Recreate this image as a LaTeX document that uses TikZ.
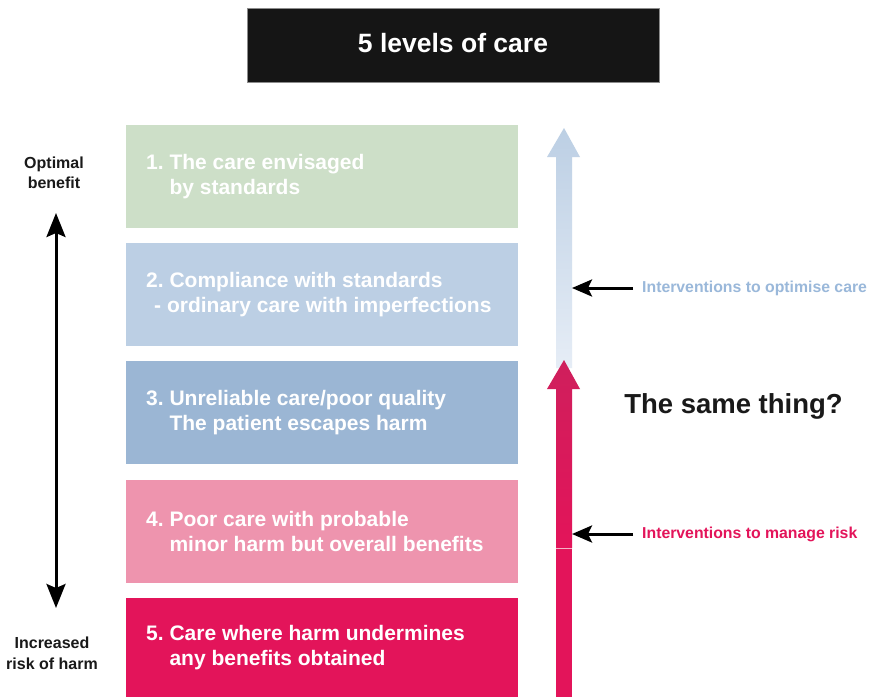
\documentclass[tikz,border=0pt]{standalone}
\usepackage{fontspec}
\setmainfont{Liberation Sans}
\usetikzlibrary{arrows.meta}
\definecolor{cgreen}{HTML}{CDDFC8}
\definecolor{cblue1}{HTML}{BCCFE4}
\definecolor{cblue2}{HTML}{9BB6D4}
\definecolor{cpink}{HTML}{EE94AE}
\definecolor{cred}{HTML}{E3145A}
\definecolor{cdred}{HTML}{CF1F5C}
\definecolor{cpale}{HTML}{E6EDF6}
\definecolor{ctext}{HTML}{9AB8DA}
\definecolor{ctitle}{HTML}{151515}
\begin{document}
\begin{tikzpicture}[x=1pt,y=-1pt,
  levelbox/.style={minimum width=392pt,minimum height=103pt,inner sep=0pt,outer sep=0pt,draw=none},
  boxtext/.style={anchor=west,text=white,font=\bfseries\fontsize{21}{25}\selectfont,align=left,inner sep=0pt},
  sidelabel/.style={font=\bfseries\fontsize{16}{20.5}\selectfont,align=center,inner sep=0pt,text=black!90},
  intlabel/.style={anchor=west,font=\bfseries\fontsize{15.8}{19}\selectfont,inner sep=0pt},
  blackarrow/.style={line width=3pt,-{Stealth[length=20pt,width=17pt,inset=4pt]}},
  dblarrow/.style={line width=3pt,{Stealth[length=24pt,width=19pt,inset=4pt]}-{Stealth[length=24pt,width=19pt,inset=4pt]}}]
\useasboundingbox (0,0) rectangle (872,697);
\fill[white] (0,0) rectangle (872,697);

% title
\node[draw=black!45,fill=ctitle,minimum width=412pt,minimum height=74pt,inner sep=0pt,outer sep=0pt] (title) at (453,45) {};
\node[text=white,font=\bfseries\fontsize{26.5}{30}\selectfont,inner sep=0pt] (titletext) at (453,43) {5 levels of care};

% level boxes
\node[levelbox,fill=cgreen] (b1) at (322,176.5) {};
\node[levelbox,fill=cblue1] (b2) at (322,294.5) {};
\node[levelbox,fill=cblue2] (b3) at (322,412.5) {};
\node[levelbox,fill=cpink] (b4) at (322,531.5) {};
\node[levelbox,fill=cred,minimum height=99pt] (b5) at (322,647.5) {};

\node[boxtext] (t1) at ([xshift=20pt]b1.west) {1.\ The care envisaged\\\hphantom{1.\ }by standards};
\node[boxtext] (t2) at ([xshift=20pt]b2.west) {2.\ Compliance with standards\\\hspace*{8pt}- ordinary care with imperfections};
\node[boxtext] (t3) at ([xshift=20pt]b3.west) {3.\ Unreliable care/poor quality\\\hphantom{3.\ }The patient escapes harm};
\node[boxtext] (t4) at ([xshift=20pt]b4.west) {4.\ Poor care with probable\\\hphantom{4.\ }minor harm but overall benefits};
\node[boxtext] (t5) at ([xshift=20pt]b5.west) {5.\ Care where harm undermines\\\hphantom{5.\ }any benefits obtained};

% left labels and double arrow
\node[sidelabel] (opt) at (54,173) {Optimal\\benefit};
\node[sidelabel] (inc) at (52,653.5) {Increased\\risk of harm};
\coordinate (la1) at (56,213);
\coordinate (la2) at (56,608);
\draw[dblarrow] (la1) -- (la2);

% blue arrow (optimise)
\shade[top color=cblue1,bottom color=cpale]
  (556,368) -- (556,157) -- (547,157) -- (564,128) -- (580,157) -- (572,157) -- (572,368) -- cycle;
\coordinate (blueE) at (572,288);

% red arrow (manage risk)
\fill[cred] (556,548) rectangle (572,697);
\shade[top color=cdred,bottom color=cred]
  (556,548) -- (556,389) -- (547,389) -- (564,360) -- (580,389) -- (572,389) -- (572,548) -- cycle;
\draw[cpink!70,line width=0.6pt] (556,548) -- (572,548);
\coordinate (redE) at (572,534);

% intervention labels
\node[intlabel,text=ctext] (int1) at (642,288) {Interventions to optimise care};
\node[intlabel,text=cred] (int2) at (642,534) {Interventions to manage risk};
\coordinate (ia1) at (633,288);
\coordinate (ia2) at (633,534);
\draw[blackarrow] (ia1) -- (blueE);
\draw[blackarrow] (ia2) -- (redE);

% question
\node[font=\bfseries\fontsize{27.5}{30}\selectfont,inner sep=0pt,text=black!90] (q) at (733.5,406) {The same thing?};
\end{tikzpicture}
\end{document}
